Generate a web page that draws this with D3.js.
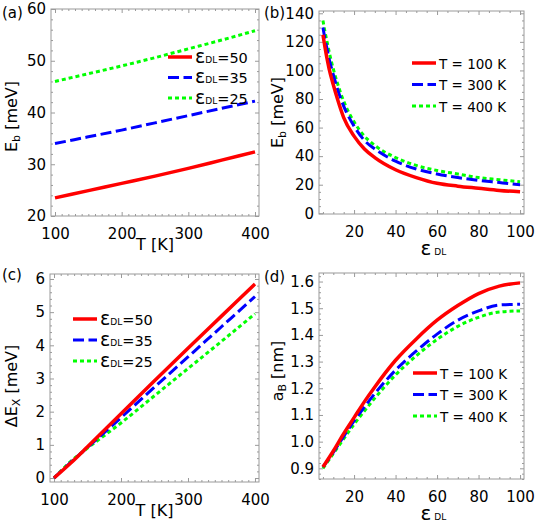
<!DOCTYPE html>
<html>
<head>
<meta charset="utf-8">
<script src="https://cdnjs.cloudflare.com/ajax/libs/d3/7.8.5/d3.min.js"></script>
<style>
  body { margin: 0; background: #fff; }
  svg { display: block; font-family: "DejaVu Sans", Verdana, sans-serif; }
</style>
</head>
<body>
<div id="chart"></div>
<script>
// ---- data ----
const tempK = [100, 150, 200, 250, 300, 350, 400];
const ebEps50 = [23.5, 24.9, 26.3, 27.7, 29.2, 30.8, 32.4];
const ebEps35 = [34.0, 35.3, 36.6, 38.0, 39.4, 40.8, 42.2];
const ebEps25 = [46.0, 47.5, 49.0, 50.6, 52.3, 54.0, 55.8];

const epsB = [5, 6, 7, 8, 10, 12, 15, 20, 25, 30, 40, 50, 60, 70, 80, 90, 100];
const ebT100 = [125, 116, 108, 101, 90, 80, 67, 54, 45, 39, 30.5, 25, 21, 19, 17.5, 16, 15];
const ebT300 = [130, 122, 115, 108, 97, 87, 75, 61, 51, 45, 36.5, 31, 27.5, 25, 23, 21.5, 20];
const ebT400 = [135, 127, 120, 113, 101, 91, 78.5, 64, 54, 47.5, 39, 33.5, 30, 27.5, 25, 23.5, 22];

const tempC = [100, 125, 150, 200, 250, 300, 350, 400];
const dEEps50 = [0, 0.45, 0.94, 1.94, 2.93, 3.91, 4.88, 5.85];
const dEEps35 = [0, 0.47, 0.92, 1.82, 2.74, 3.65, 4.56, 5.47];
const dEEps25 = [0, 0.50, 0.90, 1.66, 2.48, 3.30, 4.12, 4.95];

const epsD = [5, 10, 15, 20, 25, 30, 40, 50, 60, 70, 80, 90, 100];
const aBT100 = [0.905, 0.965, 1.03, 1.09, 1.15, 1.205, 1.305, 1.385, 1.455, 1.51, 1.555, 1.583, 1.595];
const aBT300 = [0.905, 0.96, 1.02, 1.078, 1.13, 1.18, 1.268, 1.34, 1.403, 1.455, 1.49, 1.512, 1.515];
const aBT400 = [0.90, 0.955, 1.01, 1.065, 1.115, 1.163, 1.25, 1.322, 1.383, 1.432, 1.466, 1.486, 1.49];

const epsLegend = ["=50", "=35", "=25"];
const tempLegend = ["T = 100 K", "T = 300 K", "T = 400 K"];

// ---- styles ----
const styles = [
  { color: "#ff0000", width: 3.5, dash: null },
  { color: "#0000ff", width: 3, dash: "11,4.5" },
  { color: "#00ff00", width: 3, dash: "4,3" }
];
const frameColor = "#9a9a9a";

const svg = d3.select("#chart").append("svg")
  .attr("width", 540).attr("height", 530);

function stepRange(a, b, s) {
  return d3.range(Math.ceil(a / s - 1e-9), Math.floor(b / s + 1e-9) + 1)
    .map(i => +(i * s).toFixed(6));
}

function drawPanel(cfg) {
  const g = svg.append("g");
  const x = d3.scaleLinear().domain(cfg.xDomain).range([cfg.left, cfg.right]);
  const y = d3.scaleLinear().domain(cfg.yDomain).range([cfg.bottom, cfg.top]);

  const xMajor = stepRange(cfg.xDomain[0], cfg.xDomain[1], cfg.xStep);
  const xMinor = stepRange(cfg.xDomain[0], cfg.xDomain[1], cfg.xMinor).filter(v => !xMajor.includes(v));
  const yMajor = stepRange(cfg.yDomain[0], cfg.yDomain[1], cfg.yStep);
  const yMinor = stepRange(cfg.yDomain[0], cfg.yDomain[1], cfg.yMinor).filter(v => !yMajor.includes(v));

  function styleAxis(a) {
    a.select(".domain").remove();
    a.selectAll("line").attr("stroke", frameColor);
    a.selectAll("text").attr("fill", "#000").attr("font-size", 15)
      .attr("font-family", "DejaVu Sans, Verdana, sans-serif");
    a.attr("font-family", null).attr("font-size", null);
  }

  // bottom
  g.append("g").attr("transform", `translate(0,${cfg.bottom})`)
    .call(d3.axisBottom(x).tickValues(xMinor).tickSize(-2).tickFormat(""))
    .call(styleAxis);
  g.append("g").attr("transform", `translate(0,${cfg.bottom})`)
    .call(d3.axisBottom(x).tickValues(xMajor).tickSize(-4).tickPadding(12).tickFormat(d3.format("d")))
    .call(styleAxis);
  // top
  g.append("g").attr("transform", `translate(0,${cfg.top})`)
    .call(d3.axisTop(x).tickValues(xMinor).tickSize(-2).tickFormat(""))
    .call(styleAxis);
  g.append("g").attr("transform", `translate(0,${cfg.top})`)
    .call(d3.axisTop(x).tickValues(xMajor).tickSize(-4).tickFormat(""))
    .call(styleAxis);
  // left
  g.append("g").attr("transform", `translate(${cfg.left},0)`)
    .call(d3.axisLeft(y).tickValues(yMinor).tickSize(-2).tickFormat(""))
    .call(styleAxis);
  g.append("g").attr("transform", `translate(${cfg.left},0)`)
    .call(d3.axisLeft(y).tickValues(yMajor).tickSize(-4).tickPadding(5).tickFormat(d3.format(cfg.yFormat)))
    .call(styleAxis);
  // right
  g.append("g").attr("transform", `translate(${cfg.right},0)`)
    .call(d3.axisRight(y).tickValues(yMinor).tickSize(-2).tickFormat(""))
    .call(styleAxis);
  g.append("g").attr("transform", `translate(${cfg.right},0)`)
    .call(d3.axisRight(y).tickValues(yMajor).tickSize(-4).tickFormat(""))
    .call(styleAxis);

  g.append("rect")
    .attr("x", cfg.left).attr("y", cfg.top)
    .attr("width", cfg.right - cfg.left).attr("height", cfg.bottom - cfg.top)
    .attr("fill", "none").attr("stroke", frameColor).attr("stroke-width", 1);

  const line = d3.line()
    .x(d => x(d[0])).y(d => y(d[1]))
    .curve(d3.curveMonotoneX);

  // draw back to front: green, blue, red
  [2, 1, 0].forEach(i => {
    const s = styles[i];
    const pts = cfg.xs.map((v, k) => [v, cfg.series[i][k]]);
    g.append("path").datum(pts)
      .attr("d", line)
      .attr("fill", "none")
      .attr("stroke", s.color)
      .attr("stroke-width", s.width)
      .attr("stroke-dasharray", s.dash);
  });

  // legend
  cfg.legend.forEach((lab, i) => {
    const s = styles[i];
    const ly = cfg.legendY + i * cfg.legendDy;
    g.append("line")
      .attr("x1", cfg.legendX).attr("x2", cfg.legendX + 24)
      .attr("y1", ly).attr("y2", ly)
      .attr("stroke", s.color).attr("stroke-width", s.width)
      .attr("stroke-dasharray", s.dash);
    const t = g.append("text")
      .attr("x", cfg.legendX + 27).attr("y", ly + 5.5)
      .attr("fill", "#000");
    if (cfg.epsLegend) {
      t.append("tspan").attr("font-size", 19).text("ε");
      t.append("tspan").attr("font-size", 9).text("DL");
      t.append("tspan").attr("font-size", 14.5).text(lab);
    } else {
      t.attr("font-size", 13.5).text(lab);
    }
  });

  // panel label
  g.append("text").attr("x", cfg.tagX).attr("y", cfg.tagY)
    .attr("font-size", 15).attr("fill", "#000").text(cfg.tag);

  // x label
  const xl = g.append("text").attr("fill", "#000");
  if (cfg.xEps) {
    xl.attr("x", (cfg.left + cfg.right) / 2 - 1).attr("y", cfg.bottom + 41);
    xl.append("tspan").attr("font-size", 20).text("ε");
    xl.append("tspan").attr("font-size", 9).attr("dx", 3).text("DL");
  } else {
    xl.attr("x", (cfg.left + cfg.right) / 2).attr("y", cfg.bottom + 34)
      .attr("text-anchor", "middle").attr("font-size", 16).text("T [K]");
  }

  // y label
  const cy = (cfg.top + cfg.bottom) / 2 + cfg.yLabelShift;
  const yl = g.append("text")
    .attr("transform", `translate(${cfg.yLabelX},${cy}) rotate(-90)`)
    .attr("text-anchor", "middle").attr("fill", "#000").attr("font-size", 16);
  yl.append("tspan").text(cfg.yLabel[0]);
  yl.append("tspan").attr("font-size", 11).attr("dy", 3).text(cfg.yLabel[1]);
  yl.append("tspan").attr("dy", -3).text(cfg.yLabel[2]);
}

drawPanel({
  left: 51, right: 259, top: 9, bottom: 216,
  xDomain: [94, 406], yDomain: [20, 60],
  xStep: 100, xMinor: 10, yStep: 10, yMinor: 2, yFormat: "d",
  xs: tempK, series: [ebEps50, ebEps35, ebEps25],
  legend: epsLegend, epsLegend: true, legendX: 168, legendY: 57, legendDy: 20.5,
  tag: "(a)", tagX: 2, tagY: 18,
  xEps: false, yLabel: ["E", "b", " [meV]"], yLabelX: 17, yLabelShift: 4
});

drawPanel({
  left: 319, right: 524, top: 11, bottom: 214,
  xDomain: [3.1, 101.9], yDomain: [-0.5, 141.6],
  xStep: 20, xMinor: 5, yStep: 20, yMinor: 5, yFormat: "d",
  xs: epsB, series: [ebT100, ebT300, ebT400],
  legend: tempLegend, epsLegend: false, legendX: 412, legendY: 63, legendDy: 21.5,
  tag: "(b)", tagX: 264, tagY: 18,
  xEps: true, yLabel: ["E", "b", " [meV]"], yLabelX: 283, yLabelShift: 0
});

drawPanel({
  left: 50, right: 259, top: 274, bottom: 482,
  xDomain: [94, 406], yDomain: [-0.12, 6.15],
  xStep: 100, xMinor: 10, yStep: 1, yMinor: 0.2, yFormat: "d",
  xs: tempC, series: [dEEps50, dEEps35, dEEps25],
  legend: epsLegend, epsLegend: true, legendX: 73, legendY: 319, legendDy: 21,
  tag: "(c)", tagX: 2, tagY: 280,
  xEps: false, yLabel: ["ΔE", "X", " [meV]"], yLabelX: 17, yLabelShift: 8
});

drawPanel({
  left: 319, right: 524, top: 273, bottom: 479,
  xDomain: [3.1, 101.9], yDomain: [0.86, 1.632],
  xStep: 20, xMinor: 5, yStep: 0.1, yMinor: 0.02, yFormat: ".1f",
  xs: epsD, series: [aBT100, aBT300, aBT400],
  legend: tempLegend, epsLegend: false, legendX: 413, legendY: 373, legendDy: 21.5,
  tag: "(d)", tagX: 264, tagY: 282,
  xEps: true, yLabel: ["a", "B", " [nm]"], yLabelX: 283, yLabelShift: -5
});
</script>
</body>
</html>
